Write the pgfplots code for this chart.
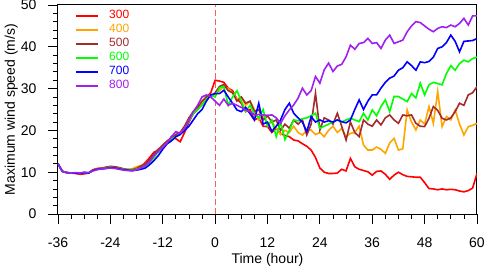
\documentclass[border=0pt]{standalone}
\usepackage{fontspec}
\setmainfont{Liberation Sans}
\usepackage{pgfplots}
\pgfplotsset{compat=1.18}
\usepackage{pgfplotstable}
\definecolor{cA}{RGB}{255,0,0}
\definecolor{cB}{RGB}{255,165,0}
\definecolor{cC}{RGB}{165,42,42}
\definecolor{cD}{RGB}{0,255,0}
\definecolor{cE}{RGB}{0,0,255}
\definecolor{cF}{RGB}{160,32,240}
\definecolor{dashc}{RGB}{242,95,95}
\pgfplotstableread{
t r o b g bl p
-36 12.0 12.0 12.0 12.0 12.0 12.0
-35 10.2 10.2 10.2 10.2 10.2 10.2
-34 9.9 9.9 9.9 9.9 9.9 9.9
-33 9.8 9.8 9.8 9.8 9.8 9.8
-32 9.7 9.8 9.8 9.8 9.8 9.9
-31 9.5 9.7 9.7 9.7 9.7 9.8
-30 9.6 9.9 9.9 9.9 9.9 10.0
-29 9.8 9.8 9.8 9.8 9.8 9.9
-28 10.6 10.5 10.5 10.4 10.4 10.3
-27 10.9 10.8 10.8 10.7 10.7 10.6
-26 11.0 10.9 10.9 10.8 10.8 10.8
-25 11.2 11.0 11.1 11.0 10.9 10.9
-24 11.4 11.2 11.3 11.2 11.1 11.0
-23 11.3 11.1 11.2 11.0 11.0 10.9
-22 11.1 10.9 11.0 10.9 10.8 10.7
-21 10.8 10.7 10.8 10.7 10.6 10.5
-20 10.6 10.7 10.6 10.6 10.5 10.4
-19 10.5 10.8 10.6 10.5 10.4 10.3
-18 10.8 11.3 10.9 10.7 10.5 10.6
-17 11.3 11.6 11.5 11.0 10.7 11.0
-16 12.3 12.0 12.0 11.5 11.0 11.6
-15 13.5 12.8 13.0 12.3 11.8 12.5
-14 14.8 14.2 14.5 13.5 12.8 14.0
-13 15.2 15.0 15.5 15.0 14.0 15.0
-12 16.0 16.0 16.5 16.0 15.5 16.0
-11 17.0 17.0 17.5 17.0 16.8 17.0
-10 18.5 18.0 18.2 18.0 17.5 18.5
-9 18.0 18.8 19.0 18.5 18.5 19.7
-8 17.3 19.5 19.5 19.2 19.0 19.3
-7 19.5 21.0 21.0 20.5 20.0 20.5
-6 22.0 22.8 23.0 22.3 21.0 22.5
-5 24.0 24.5 24.5 24.0 22.5 24.5
-4 25.0 25.5 25.5 25.0 24.0 26.0
-3 26.5 26.5 27.0 26.0 25.0 28.0
-2 28.0 27.5 28.0 27.5 27.0 28.5
-1 29.0 28.5 28.0 28.5 28.5 28.0
0 32.0 28.5 29.0 28.0 28.8 27.0
1 31.8 29.5 30.5 30.2 28.8 26.0
2 31.5 30.5 31.0 30.5 29.6 27.5
3 30.1 30.0 29.5 26.0 28.0 26.0
4 29.5 29.0 29.0 28.0 26.5 26.5
5 27.5 27.5 27.0 29.5 24.9 26.0
6 26.5 28.0 28.0 27.0 24.5 25.5
7 24.5 26.0 26.5 24.5 25.5 24.9
8 25.0 27.0 27.0 26.0 24.0 24.5
9 22.5 25.0 24.5 24.0 22.5 23.7
10 23.0 22.5 25.0 23.0 26.5 23.8
11 21.0 23.5 22.5 25.0 21.5 23.7
12 20.9 21.5 23.5 21.0 22.0 23.6
13 19.5 22.0 22.0 22.5 19.8 23.7
14 20.5 20.5 22.5 18.5 21.0 23.0
15 19.2 19.0 20.0 22.0 22.5 21.7
16 18.8 20.0 21.5 17.8 25.0 23.5
17 18.5 19.5 20.5 20.0 26.5 24.9
18 17.7 21.0 22.5 22.5 24.1 26.1
19 17.5 19.5 21.5 22.3 23.0 27.7
20 16.8 18.9 22.5 22.8 22.0 30.1
21 16.2 20.0 18.9 23.0 19.7 28.5
22 15.3 20.1 21.5 23.5 23.3 29.5
23 13.5 19.0 28.9 24.1 22.0 32.9
24 11.0 19.5 20.1 20.5 22.5 31.3
25 10.0 18.5 23.0 21.0 22.0 34.5
26 9.7 20.0 22.5 21.5 22.3 36.1
27 9.7 21.0 21.5 22.0 22.0 34.1
28 9.8 19.5 24.1 22.5 22.5 35.4
29 10.7 20.5 21.0 22.0 22.1 35.8
30 10.3 18.5 17.7 22.5 21.8 37.6
31 13.3 19.3 22.0 22.9 22.5 40.4
32 11.3 19.5 19.5 22.5 25.0 39.4
33 10.7 21.0 18.5 22.1 27.3 40.8
34 10.4 16.5 22.5 24.1 25.0 41.0
35 10.1 15.3 21.5 22.5 27.0 42.0
36 9.3 15.3 21.0 24.9 28.5 40.8
37 10.2 16.0 22.5 23.5 28.5 41.0
38 10.3 15.5 21.3 25.7 30.1 39.6
39 9.5 14.5 23.0 27.3 31.5 41.6
40 8.3 17.0 23.7 24.5 32.5 42.8
41 9.3 18.1 22.5 28.1 33.0 40.8
42 10.0 15.3 21.7 28.1 34.4 41.2
43 9.4 15.6 23.7 27.5 35.0 41.6
44 9.0 24.9 23.5 26.9 36.4 43.6
45 8.9 22.0 23.7 28.8 35.5 45.0
46 8.8 20.1 21.7 27.8 34.4 46.0
47 8.8 22.5 21.0 31.3 36.4 45.8
48 7.5 21.5 20.9 28.5 36.2 45.0
49 6.1 25.7 22.9 30.9 36.5 44.2
50 6.0 21.7 25.7 31.5 37.5 43.6
51 5.8 29.3 24.8 31.2 39.6 44.4
52 6.0 20.9 22.9 30.9 40.0 44.8
53 5.8 23.3 22.5 33.6 41.0 44.6
54 5.9 22.5 23.0 35.5 42.8 45.2
55 5.8 24.9 24.5 34.4 41.3 44.8
56 5.5 21.5 26.5 36.0 38.8 45.6
57 5.3 18.9 26.0 36.8 41.3 46.8
58 5.6 20.9 28.5 36.4 41.4 45.2
59 6.2 21.2 29.0 37.2 41.5 47.4
60 9.7 21.7 30.5 37.5 42.0 47.4
}\datatable
\begin{document}
\begin{tikzpicture}
\begin{axis}[
  scale only axis, width=419pt, height=209pt,
  xmin=-36, xmax=60, ymin=0, ymax=50,
  xtick={-36,-24,...,60}, ytick={0,10,...,50},
  minor x tick num=3, minor y tick num=4,
  tick align=outside, xtick pos=bottom, ytick pos=left,
  major tick length=10pt, minor tick length=5pt,
  tick style={line width=0.8pt, black},
  axis line style={line width=1pt},
  /pgf/number format/assume math mode=true,
  ticklabel style={font=\fontsize{14}{16}\selectfont},
  xticklabel style={yshift=-10pt},
  yticklabel style={xshift=-8pt},
  xlabel={Time (hour)}, ylabel={Maximum wind speed (m/s)},
  every axis x label/.style={at={(axis description cs:0.5,0)}, anchor=base, yshift=-49pt, font=\fontsize{14}{16}\selectfont},
  every axis y label/.style={at={(axis description cs:0,0.5)}, rotate=90, anchor=base, yshift=43pt, font=\fontsize{14}{16}\selectfont},
  legend style={at={(axis description cs:0,1)}, anchor=north west, xshift=17pt, yshift=-4pt,
    draw=none, fill=none, inner sep=0pt, font=\fontsize{12}{13}\selectfont, row sep=0pt, column sep=7pt,
    nodes={inner xsep=3pt, inner ysep=0pt, text height=9.6pt, text depth=4.4pt}},
  legend cell align=left,
  legend image code/.code={\draw[#1, line width=2pt] (0pt,0pt) -- (22pt,0pt);},
]
\addplot[draw=dashc, line width=1.4pt, dash pattern=on 6pt off 3pt, forget plot] coordinates {(0.02,0) (0.02,50)};
\addplot[cA, line width=1.6pt] table[x=t, y=r] {\datatable};
\addlegendentry{\textcolor{cA}{300}}
\addplot[cB, line width=1.6pt] table[x=t, y=o] {\datatable};
\addlegendentry{\textcolor{cB}{400}}
\addplot[cC, line width=1.6pt] table[x=t, y=b] {\datatable};
\addlegendentry{\textcolor{cC}{500}}
\addplot[cD, line width=1.6pt] table[x=t, y=g] {\datatable};
\addlegendentry{\textcolor{cD}{600}}
\addplot[cE, line width=1.6pt] table[x=t, y=bl] {\datatable};
\addlegendentry{\textcolor{cE}{700}}
\addplot[cF, line width=1.6pt] table[x=t, y=p] {\datatable};
\addlegendentry{\textcolor{cF}{800}}
\end{axis}
\pgfresetboundingbox
\path[use as bounding box] (-58pt,-54pt) rectangle (426pt,214pt);
\end{tikzpicture}
\end{document}
